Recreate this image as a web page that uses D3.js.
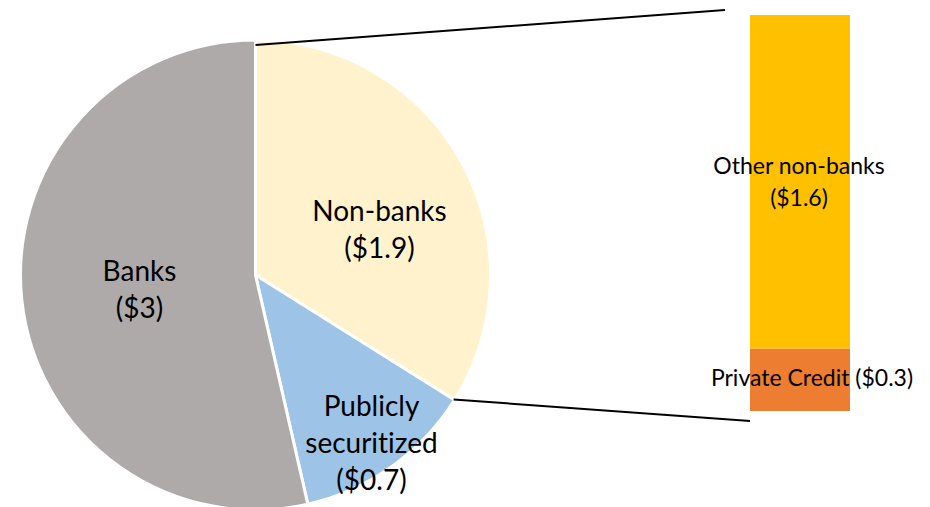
<!DOCTYPE html>
<html><head><meta charset="utf-8">
<script src="https://cdn.jsdelivr.net/npm/d3@7"></script>
<style>body{margin:0;background:#fff;} svg{display:block;} text{font-family:Lato, "Open Sans", sans-serif;fill:#000;font-variant-ligatures:none;font-feature-settings:"liga" 0, "clig" 0;}</style>
</head><body>
<svg id="c" width="930" height="507"></svg>
<script>
const pieCategories = ["Non-banks", "Publicly securitized", "Banks"];
const pieValues = [1.9, 0.7, 3];
const pieLabels = [["Non-banks", "($1.9)"], ["Publicly", "securitized", "($0.7)"], ["Banks", "($3)"]];
const pieColors = ["#FFF2CC", "#9DC3E6", "#AEAAAA"];
const barCategories = ["Private Credit", "Other non-banks"];
const barValues = [0.3, 1.6];
const barLabels = [["Private Credit ($0.3)"], ["Other non-banks", "($1.6)"]];
const barColors = ["#ED7D31", "#FFC000"];

const svg = d3.select("#c");
const cx = 255.5, cy = 275, R = 235;
const pie = d3.pie().sort(null).value(d => d)(pieValues);
const arc = d3.arc().innerRadius(0).outerRadius(R);
const g = svg.append("g").attr("transform", `translate(${cx},${cy})`);
g.selectAll("path").data(pie).join("path")
  .attr("d", arc).attr("fill", (d, i) => pieColors[i])
  .attr("stroke", "#fff").attr("stroke-width", 3).attr("stroke-linejoin", "miter");

const labelPos = [[124, -45], [116, 168], [-116, 15]];
const lh = 37;
pie.forEach((d, i) => {
  const lines = pieLabels[i];
  const t = g.append("text").attr("text-anchor", "middle").attr("font-size", 28);
  lines.forEach((l, j) => {
    t.append("tspan").attr("x", labelPos[i][0]).attr("y", labelPos[i][1] + (j - (lines.length - 1) / 2) * lh).attr("dy", "0.35em").text(l);
  });
});

// bar
const barX = 750, barW = 100;
const stack = d3.cumsum(barValues);
const total = d3.sum(barValues);
const y = d3.scaleLinear().domain([0, total]).range([411, 15]);
svg.selectAll("rect.bar").data(barValues).join("rect").attr("class", "bar")
  .attr("x", barX).attr("width", barW)
  .attr("y", (d, i) => y(stack[i]))
  .attr("height", (d, i) => y(stack[i] - d) - y(stack[i]))
  .attr("fill", (d, i) => barColors[i]);

const barLabelCenters = [[812, y(0.3 / 2) - 2], [799, y(0.3 + 1.6 / 2)]];
barValues.forEach((d, i) => {
  const lines = barLabels[i];
  const t = svg.append("text").attr("text-anchor", "middle").attr("font-size", 23);
  lines.forEach((l, j) => {
    t.append("tspan").attr("x", barLabelCenters[i][0]).attr("y", barLabelCenters[i][1] + (j - (lines.length - 1) / 2) * 32).attr("dy", "0.35em").text(l);
  });
});

// connectors
const a0 = pie[0].startAngle, a1 = pie[0].endAngle;
const pt = a => [cx + (R - 1) * Math.sin(a), cy - (R - 1) * Math.cos(a)];
const p0 = pt(a0), p1 = pt(a1);
svg.append("line").attr("x1", p0[0]).attr("y1", p0[1] + 4).attr("x2", barX - 25).attr("y2", y(total) - 5)
  .attr("stroke", "#000").attr("stroke-width", 2);
svg.append("line").attr("x1", p1[0]).attr("y1", p1[1]).attr("x2", barX).attr("y2", y(0) + 10)
  .attr("stroke", "#000").attr("stroke-width", 2);
</script>
</body></html>
